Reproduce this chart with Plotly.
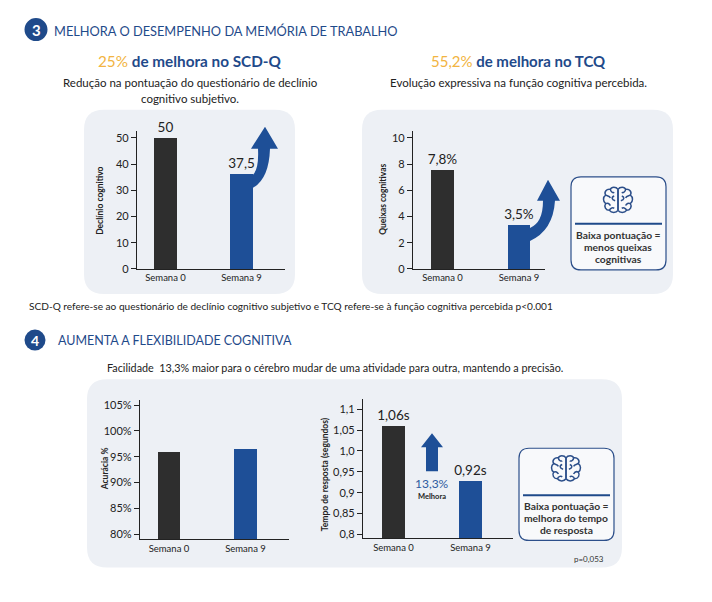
import plotly.graph_objects as go

W, H = 712, 602
# the page shows the figure shifted by the body margin and slightly squeezed
# vertically; positions below are picture pixels, mapped through fx / fy
OX, OY, SY = 8, 9.5, 0.985

# ---- data ----
categories = ["Semana 0", "Semana 9"]
scdq_values = [50, 36]
scdq_labels = ["50", "37,5"]
scdq_ticks = [0, 10, 20, 30, 40, 50]
tcq_values = [7.5, 3.35]
tcq_labels = ["7,8%", "3,5%"]
tcq_ticks = [0, 2, 4, 6, 8, 10]
acc_values = [95.9, 96.5]
acc_ticks = [80, 85, 90, 95, 100, 105]
acc_ticktext = ["80%", "85%", "90%", "95%", "100%", "105%"]
rt_values = [1.06, 0.927]
rt_labels = ["1,06s", "0,92s"]
rt_ticks = [0.8, 0.85, 0.9, 0.95, 1.0, 1.05, 1.1]
rt_ticktext = ["0,8", "0,85", "0,9", "0,95", "1,0", "1,05", "1,1"]

BAR_COLORS = ["#2e2e2e", "#1e4f97"]
BLUE = "#1f4a8a"
ARROW = "#1e4f97"
ORANGE = "#f2b441"
DARK = "#222222"
PANEL = "#edf0f5"
FONT = "Lato"
NARROW = "Liberation Sans Narrow, Arial Narrow, Lato"


def fx(x):
    return (x - OX) / W


def fy(y):
    return 1 - ((y - OY) / SY) / H


def conv(s, fn):
    out = []
    toks = s.replace(",", " ").split()
    i = 0
    while i < len(toks):
        t = toks[i]
        if t.isalpha():
            out.append(t)
            i += 1
        else:
            a, b = fn(float(toks[i]), float(toks[i + 1]))
            out.append(f"{a:.5f},{b:.5f}")
            i += 2
    return " ".join(out)


def paper_path(s):
    return conv(s, lambda x, y: (fx(x), fy(y)))


def rrect(x0, y0, x1, y1, r):
    return (f"M {x0+r} {y0} L {x1-r} {y0} Q {x1} {y0} {x1} {y0+r} L {x1} {y1-r} "
            f"Q {x1} {y1} {x1-r} {y1} L {x0+r} {y1} Q {x0} {y1} {x0} {y1-r} "
            f"L {x0} {y0+r} Q {x0} {y0} {x0+r} {y0} Z")


BRAIN = [
    "M 0 -11 C -2 -14 -7 -14 -8 -11 C -12 -12 -15 -8 -13 -5 C -16 -3 -16 2 -13 4 "
    "C -15 7 -13 11 -9 11 C -7 14 -2 14 0 11",
    "M 0 -11 L 0 11",
    "M -8 -11 C -8 -8 -5 -7 -4 -8",
    "M -13 -5 C -11 -4 -9 -4 -8 -2",
    "M -4 -4 C -7 -3 -7 0 -3 1",
    "M -13 4 C -11 3 -9 4 -8 6",
    "M -9 11 C -8 8 -5 8 -4 9",
]


def brain_shapes(cx, cy, s):
    shapes = []
    for side in (1, -1):
        for sub in BRAIN:
            p = conv(sub, lambda x, y: (cx + side * s * x, cy + s * y))
            shapes.append(dict(type="path", xref="paper", yref="paper", path=paper_path(p),
                               line=dict(color="#2c4f8a", width=1.5), fillcolor="rgba(0,0,0,0)"))
    return shapes


fig = go.Figure()

# ---- bars ----
fig.add_trace(go.Bar(x=categories, y=scdq_values, text=scdq_labels, marker_color=BAR_COLORS,
                     width=0.3, xaxis="x", yaxis="y"))
fig.add_trace(go.Bar(x=categories, y=tcq_values, text=tcq_labels, marker_color=BAR_COLORS,
                     width=0.29, xaxis="x2", yaxis="y2"))
fig.add_trace(go.Bar(x=categories, y=acc_values, marker_color=BAR_COLORS,
                     width=0.294, xaxis="x3", yaxis="y3"))
fig.add_trace(go.Bar(x=categories, y=rt_values, text=rt_labels, marker_color=BAR_COLORS,
                     width=0.3, xaxis="x4", yaxis="y4"))
fig.update_traces(textposition="outside", cliponaxis=False, constraintext="none",
                  textfont=dict(family=FONT, size=13.5, color=DARK), marker_line_width=0,
                  hoverinfo="skip")


def xa(x0, x1, rng, anchor):
    return dict(domain=[fx(x0), fx(x1)], range=rng, anchor=anchor, showline=True,
                linecolor=DARK, linewidth=1.2, ticks="", showgrid=False, zeroline=False,
                tickfont=dict(family=NARROW, size=9.5, color=DARK), fixedrange=True)


def ya(yb, yt, rng, anchor, vals, text=None):
    d = dict(domain=[fy(yb), fy(yt)], range=rng, anchor=anchor, showline=True,
             linecolor=DARK, linewidth=1.2, ticks="outside", ticklen=5, tickcolor=DARK,
             tickwidth=1.2, showgrid=False, zeroline=False, tickmode="array", tickvals=vals,
             tickfont=dict(family=FONT, size=11, color=DARK), fixedrange=True)
    if text:
        d["ticktext"] = text
    return d


shapes = []
# panels
for (a, b, c, d) in [(84, 109, 295, 293), (362, 109, 673, 293), (87, 378, 622, 566)]:
    shapes.append(dict(type="path", xref="paper", yref="paper", path=paper_path(rrect(a, b, c, d, 20)),
                       fillcolor=PANEL, line=dict(width=0), layer="below"))
# number circles
for cx, cy, r in [(36, 29, 11.5), (35, 339, 10.5)]:
    shapes.append(dict(type="circle", xref="paper", yref="paper", x0=fx(cx - r), x1=fx(cx + r),
                       y0=fy(cy + r), y1=fy(cy - r), fillcolor=BLUE, line=dict(width=0)))
# arrows
arrow_paths = [
    "M 253 174 Q 259 168 258 148 L 251 148 L 265 126 L 278 148 L 270 148 Q 269 178 253 187 Z",
    "M 530 227 Q 543 222 543 200 L 537 200 L 548 179 L 560 200 L 555 200 Q 553 230 530 240 Z",
    "M 426 470 L 426 446 L 421 446 L 432 432 L 443 446 L 438 446 L 438 470 Z",
]
for p in arrow_paths:
    shapes.append(dict(type="path", xref="paper", yref="paper", path=paper_path(p),
                       fillcolor=ARROW, line=dict(width=0)))
# info boxes
for (a, b, c, d) in [(571, 176, 666, 269), (519, 447, 614, 539)]:
    shapes.append(dict(type="path", xref="paper", yref="paper", path=paper_path(rrect(a, b, c, d, 10)),
                       fillcolor="#f8f9fb", line=dict(color="#2c4f8a", width=1.2)))
    cy = b + 47
    shapes.append(dict(type="line", xref="paper", yref="paper", x0=fx(a + 4), x1=fx(c - 4),
                       y0=fy(cy), y1=fy(cy), line=dict(color=BLUE, width=2)))
shapes += brain_shapes(618, 199, 0.95)
shapes += brain_shapes(566, 467, 0.95)

ann = []


def txt(x, y, s, size, color=DARK, anchor="center", family=FONT, angle=0):
    ann.append(dict(x=fx(x), y=fy(y), xref="paper", yref="paper", text=s, showarrow=False,
                    xanchor=anchor, yanchor="middle", textangle=angle,
                    font=dict(family=family, size=size, color=color)))


txt(36, 29.5, "<b>3</b>", 15, "white")
txt(35, 339.5, "<b>4</b>", 14, "white")
txt(52, 30, "MELHORA O DESEMPENHO DA MEMÓRIA DE TRABALHO", 12.8, BLUE, "left")
txt(56, 339, "AUMENTA A FLEXIBILIDADE COGNITIVA", 12.5, BLUE, "left")
txt(190, 60, f"<span style='color:{ORANGE}'>25%</span><b> de melhora no SCD-Q</b>", 15.3, BLUE)
txt(518, 60, f"<span style='color:{ORANGE}'>55,2%</span><b> de melhora no TCQ</b>", 15, BLUE)
txt(190, 82, "Redução na pontuação do questionário de declínio", 11.5)
txt(190, 98, "cognitivo subjetivo.", 11.5)
txt(518, 82, "Evolução expressiva na função cognitiva percebida.", 11.5)
txt(27, 305, "SCD-Q refere-se ao questionário de declínio cognitivo subjetivo e TCQ refere-se à função "
             "cognitiva percebida p&lt;0.001", 10.1, anchor="left")
txt(105, 366, "Facilidade\u00a0 13,3% maior para o cérebro mudar de uma atividade para outra, "
              "mantendo a precisão.", 10.8, anchor="left")
# axis titles
txt(100, 200, "<b>Declínio cognitivo</b>", 8.5, family=NARROW, angle=-90)
txt(383, 199, "<b>Queixas cognitivas</b>", 8.5, family=NARROW, angle=-90)
txt(105, 468, "<b>Acurácia %</b>", 8.5, family=NARROW, angle=-90)
txt(325, 473, "<b>Tempo de resposta (segundos)</b>", 8.5, family=NARROW, angle=-90)
# arrow caption
txt(432, 482, "13,3%", 12, "#2c5aa0")
txt(432, 495, "<b>Melhora</b>", 7.5, family=NARROW)
# info box texts
for cx, y0, lines in [(618, 234, ["Baixa pontuação =", "menos queixas", "cognitivas"]),
                      (566, 505, ["Baixa pontuação =", "melhora do tempo", "de resposta"])]:
    for k, line in enumerate(lines):
        txt(cx, y0 + k * 11.8, f"<b>{line}</b>", 10.3, "#333333")
txt(589, 558, "p=0,053", 8, "#333333")

fig.update_layout(
    width=W, height=H, margin=dict(l=0, r=0, t=0, b=0),
    paper_bgcolor="white", plot_bgcolor="rgba(0,0,0,0)", showlegend=False,
    bargap=0, hovermode=False,
    xaxis=xa(137, 285, [-0.375, 1.572], "y"),
    yaxis=ya(268, 130.5, [0, 52.5], "x", scdq_ticks),
    xaxis2=xa(413, 545, [-0.386, 1.34], "y2"),
    yaxis2=ya(268, 130.5, [0, 10.5], "x2", tcq_ticks),
    xaxis3=xa(140, 289, [-0.379, 1.569], "y3"),
    yaxis3=ya(538, 398.7, [79, 106], "x3", acc_ticks, acc_ticktext),
    xaxis4=xa(363, 513, [-0.396, 1.552], "y4"),
    yaxis4=ya(537, 398, [0.7904, 1.124], "x4", rt_ticks, rt_ticktext),
    shapes=shapes, annotations=ann,
)

fig.write_html("out.html")
